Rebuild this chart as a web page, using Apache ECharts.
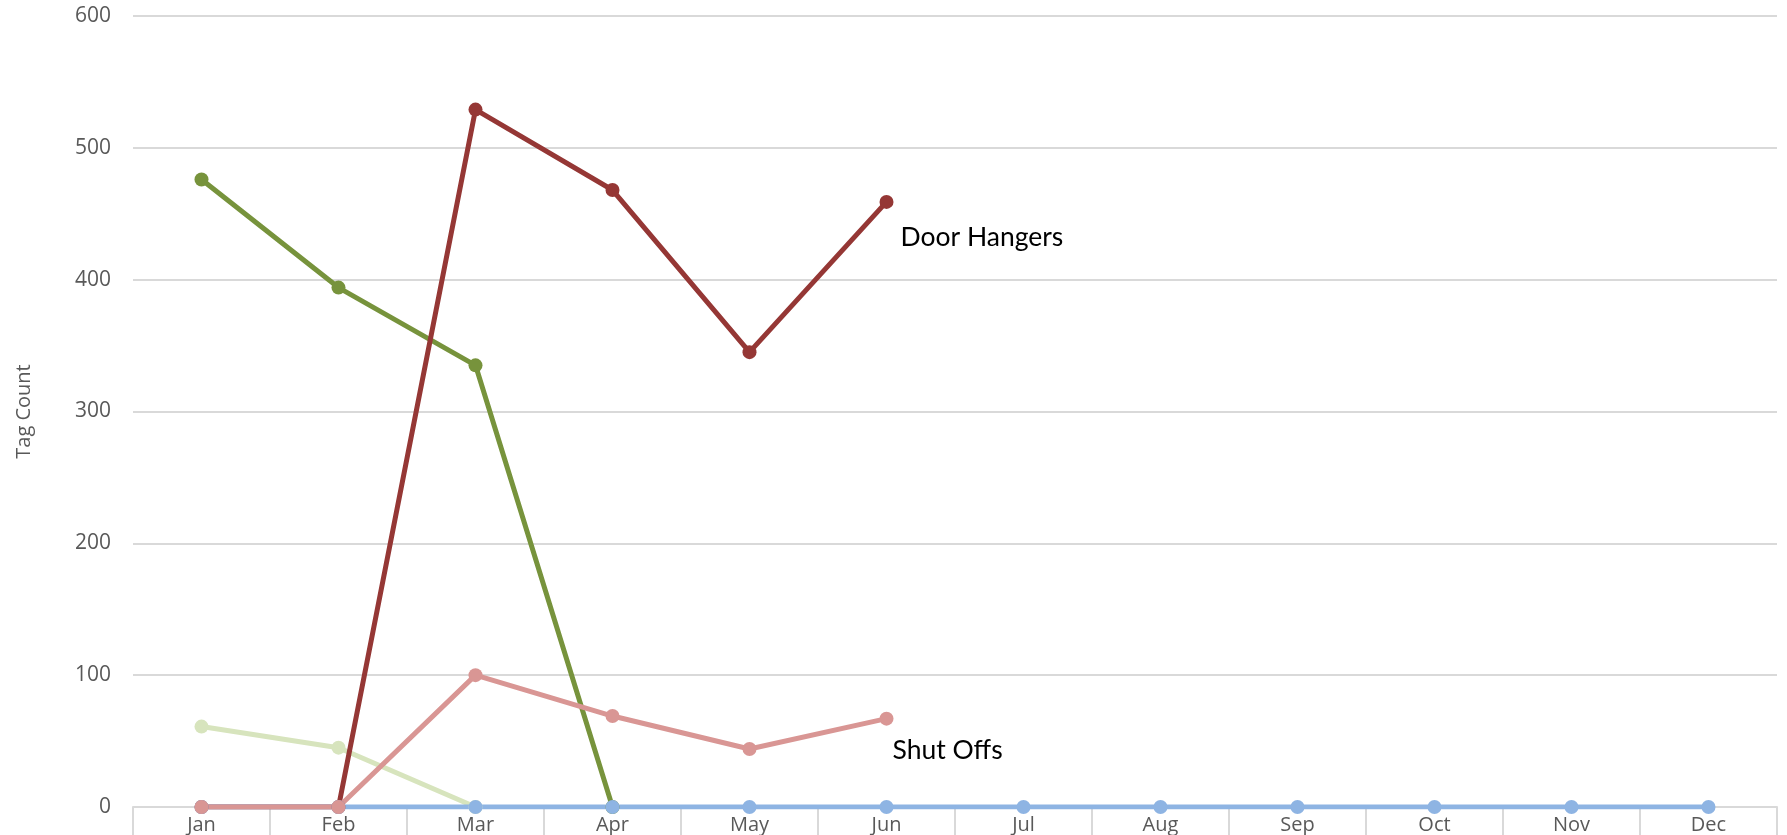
<!DOCTYPE html>
<html>
<head>
<meta charset="utf-8">
<script src="https://cdn.jsdelivr.net/npm/echarts@6/dist/echarts.min.js"></script>
<style>
  html, body { margin: 0; padding: 0; background: #fff; }
  #main { width: 1787px; height: 835px; }
</style>
</head>
<body>
<div id="main"></div>
<script>
var myChart = echarts.init(document.getElementById('main'));

const months = ['Jan', 'Feb', 'Mar', 'Apr', 'May', 'Jun', 'Jul', 'Aug', 'Sep', 'Oct', 'Nov', 'Dec'];
const yTicks = [0, 100, 200, 300, 400, 500, 600];

// series values
const doorHangersPrev = [476, 394, 335, 0, null, null, null, null, null, null, null, null];
const shutOffsPrev = [61, 45, 0, null, null, null, null, null, null, null, null, null];
const zeroLine = [0, 0, 0, 0, 0, 0, 0, 0, 0, 0, 0, 0];
const doorHangers = [0, 0, 529, 468, 345, 459, null, null, null, null, null, null];
const shutOffs = [0, 0, 100, 69, 44, 67, null, null, null, null, null, null];

function withEndLabel(values, text, offset) {
  // put a text label on the last real point of the line
  var last = -1;
  values.forEach(function (v, i) { if (v !== null) last = i; });
  return values.map(function (v, i) {
    if (i !== last) return v;
    return {
      value: v,
      label: {
        show: true,
        position: 'right',
        offset: offset,
        formatter: text,
        color: '#000',
        fontFamily: 'Lato',
        fontSize: 26.5
      }
    };
  });
}

function lineSeries(name, color, data) {
  return {
    name: name,
    type: 'line',
    data: data,
    symbol: 'circle',
    symbolSize: 14,
    showAllSymbol: true,
    lineStyle: { color: color, width: 5 },
    itemStyle: { color: color },
    emphasis: { disabled: true }
  };
}

const option = {
  animation: false,
  grid: { left: 133, right: 10, top: 16, bottom: 28 },
  xAxis: {
    type: 'category',
    data: months,
    boundaryGap: true,
    axisLine: { lineStyle: { color: '#d9d9d9', width: 2 } },
    axisTick: { show: true, length: 40, lineStyle: { color: '#d9d9d9', width: 2 } },
    axisLabel: { color: '#595959', fontFamily: 'Open Sans', fontSize: 20, margin: 8 }
  },
  yAxis: {
    type: 'value',
    min: yTicks[0],
    max: yTicks[yTicks.length - 1],
    interval: 100,
    name: 'Tag Count',
    nameLocation: 'middle',
    nameGap: 99,
    nameTextStyle: { color: '#595959', fontFamily: 'Open Sans', fontSize: 20 },
    axisLine: { show: false },
    axisTick: { show: false },
    axisLabel: { color: '#595959', fontFamily: 'Open Sans', fontSize: 21, margin: 22 },
    splitLine: { lineStyle: { color: '#d9d9d9', width: 2 } }
  },
  series: [
    lineSeries('Shut Offs 2019', '#d7e4bd', shutOffsPrev),
    lineSeries('Door Hangers 2019', '#77933c', doorHangersPrev),
    lineSeries('Door Hangers', '#953735', withEndLabel(doorHangers, 'Door Hangers', [2, 36])),
    lineSeries('Zero', '#8eb4e3', zeroLine),
    lineSeries('Shut Offs', '#d99694', withEndLabel(shutOffs, 'Shut Offs', [-6, 32]))
  ]
};

myChart.setOption(option);
</script>
</body>
</html>
